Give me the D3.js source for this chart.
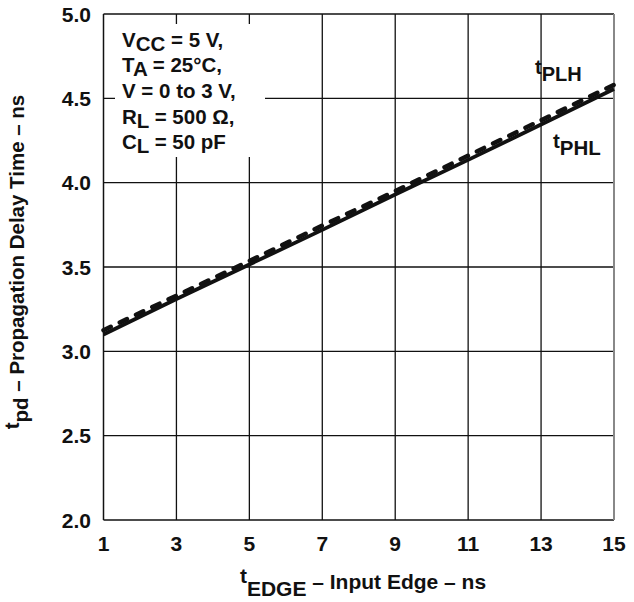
<!DOCTYPE html>
<html>
<head>
<meta charset="utf-8">
<script src="https://cdn.jsdelivr.net/npm/d3@7"></script>
<style>
  html, body { margin: 0; padding: 0; background: #fff; }
  svg { display: block; font-family: "Liberation Sans", Arial, Helvetica, sans-serif; font-weight: bold; }
</style>
</head>
<body>
<svg id="chart" width="634" height="602"></svg>
<script>
// Input edge rate (ns) at each grid column
const edgeTimes = [1, 3, 5, 7, 9, 11, 13, 15];
// Propagation delay, low-to-high (dashed) and high-to-low (solid), ns
const tPLH = [3.125, 3.33, 3.535, 3.745, 3.95, 4.16, 4.37, 4.58];
const tPHL = [3.10, 3.31, 3.515, 3.72, 3.93, 4.135, 4.345, 4.555];
const xTicks = [1, 3, 5, 7, 9, 11, 13, 15];
const yTicks = [2.0, 2.5, 3.0, 3.5, 4.0, 4.5, 5.0];
const conditions = [
  ["V", "CC", " = 5 V,"],
  ["T", "A", " = 25°C,"],
  ["V = 0 to 3 V,", "", ""],
  ["R", "L", " = 500 Ω,"],
  ["C", "L", " = 50 pF"]
];

const svg = d3.select("#chart");
const m = { left: 103.5, top: 14, right: 614, bottom: 520 };

const x = d3.scaleLinear().domain([1, 15]).range([m.left, m.right]);
const y = d3.scaleLinear().domain([2, 5]).range([m.bottom, m.top]);

// Grid
const grid = svg.append("g").attr("stroke", "#111").attr("stroke-width", 1.3);
grid.selectAll("line.v").data(xTicks.slice(1, -1)).join("line")
  .attr("x1", d => x(d)).attr("x2", d => x(d))
  .attr("y1", m.top).attr("y2", m.bottom);
grid.selectAll("line.h").data(yTicks.slice(1, -1)).join("line")
  .attr("x1", m.left).attr("x2", m.right)
  .attr("y1", d => y(d)).attr("y2", d => y(d));

// Frame
svg.append("line").attr("x1", m.left).attr("x2", m.right).attr("y1", m.top).attr("y2", m.top)
  .attr("stroke", "#111").attr("stroke-width", 1.5);
svg.append("line").attr("x1", m.left).attr("x2", m.right).attr("y1", m.bottom).attr("y2", m.bottom)
  .attr("stroke", "#111").attr("stroke-width", 1.5);
svg.append("line").attr("x1", m.left).attr("x2", m.left).attr("y1", m.top).attr("y2", m.bottom)
  .attr("stroke", "#111").attr("stroke-width", 1.5);
svg.append("line").attr("x1", m.right).attr("x2", m.right).attr("y1", m.top).attr("y2", m.bottom)
  .attr("stroke", "#888").attr("stroke-width", 2);

// Conditions box (masks the grid behind it)
svg.append("rect").attr("x", 115).attr("y", 24).attr("width", 150).attr("height", 133).attr("fill", "#fff");
const cond = svg.append("g").attr("font-size", 20.5).attr("fill", "#111");
conditions.forEach((c, i) => {
  const t = cond.append("text").attr("x", 122).attr("y", 46.5 + i * 25.7);
  t.append("tspan").text(c[0]);
  if (c[1]) t.append("tspan").attr("dy", 4).text(c[1]);
  t.append("tspan").attr("dy", c[1] ? -4 : 0).text(c[2]);
});

// Curves
const line = d3.line().x((d, i) => x(edgeTimes[i])).y(d => y(d));
svg.append("path").datum(tPLH).attr("d", line)
  .attr("fill", "none").attr("stroke", "#111").attr("stroke-width", 4.5)
  .attr("stroke-dasharray", "8,10").attr("stroke-linecap", "round");
svg.append("path").datum(tPHL).attr("d", line)
  .attr("fill", "none").attr("stroke", "#111").attr("stroke-width", 3.8);

// Curve labels: raised "t" with lowered subscript
function subLabel(px, py, main, sub, size) {
  const t = svg.append("text").attr("x", px).attr("y", py).attr("font-size", size).attr("fill", "#111");
  t.append("tspan").text(main);
  t.append("tspan").attr("dy", 7).text(sub);
  return t;
}
subLabel(535, 74, "t", "PLH", 20);
subLabel(553, 148, "t", "PHL", 20.5);

// Tick labels
svg.append("g").attr("font-size", 21).attr("fill", "#111").attr("text-anchor", "middle")
  .selectAll("text").data(xTicks).join("text")
  .attr("x", d => x(d)).attr("y", 551).text(d => d);
svg.append("g").attr("font-size", 21).attr("fill", "#111").attr("text-anchor", "end")
  .selectAll("text").data(yTicks).join("text")
  .attr("x", 91).attr("y", d => y(d) + 7.5).text(d => d.toFixed(1));

// Axis titles
const xt = svg.append("text").attr("x", 363).attr("y", 583).attr("text-anchor", "middle")
  .attr("font-size", 21).attr("fill", "#111");
xt.append("tspan").text("t");
xt.append("tspan").attr("dy", 13).text("EDGE");
xt.append("tspan").attr("dy", -7).text(" – Input Edge – ns");

const yt = svg.append("text").attr("transform", "translate(24,262) rotate(-90)")
  .attr("text-anchor", "middle").attr("font-size", 20.5).attr("fill", "#111");
yt.append("tspan").attr("dy", -5).text("t");
yt.append("tspan").attr("dy", 9).text("pd");
yt.append("tspan").attr("dy", -4).text(" – Propagation Delay Time – ns");
</script>
</body>
</html>
